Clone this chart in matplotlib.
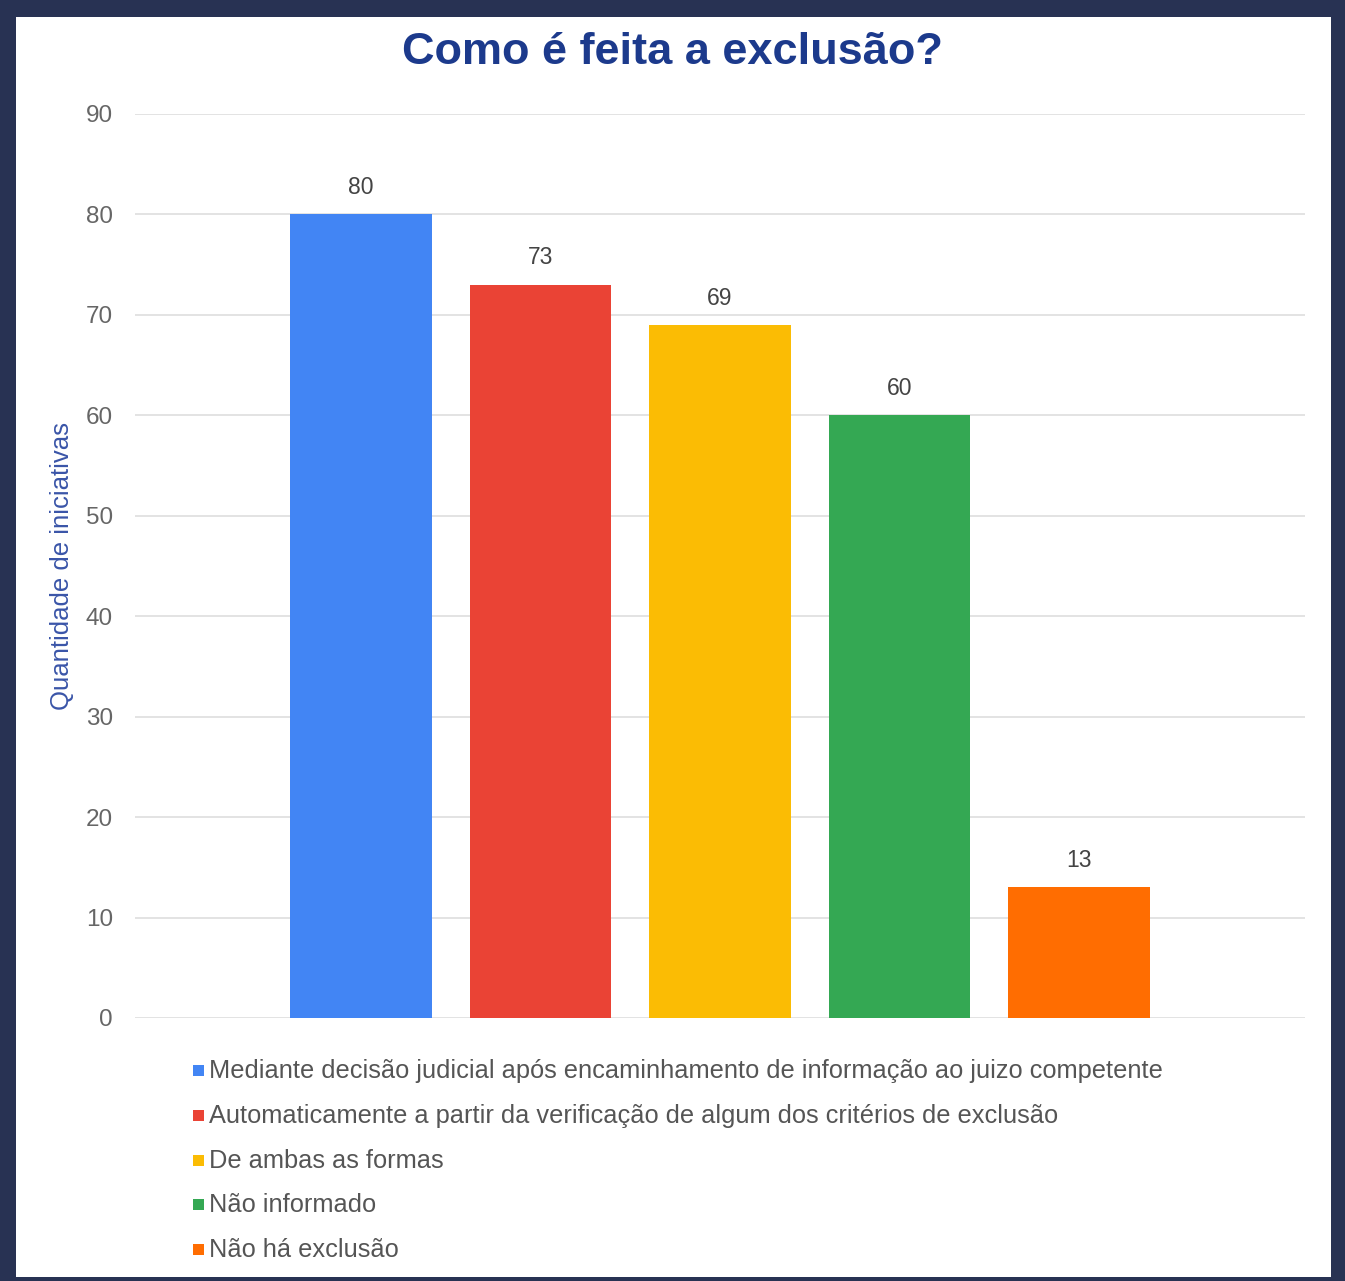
import matplotlib
matplotlib.use("Agg")
import matplotlib.pyplot as plt
from matplotlib.patches import Rectangle

plt.rcParams['font.family'] = ['Liberation Sans', 'DejaVu Sans']

# dados
categorias = [
    "Mediante decisão judicial após encaminhamento de informação ao juizo competente",
    "Automaticamente a partir da verificação de algum dos critérios de exclusão",
    "De ambas as formas",
    "Não informado",
    "Não há exclusão",
]
valores = [80, 73, 69, 60, 13]
cores = ["#4285f4", "#ea4335", "#fbbc04", "#34a853", "#ff6d01"]
yticks = [0, 10, 20, 30, 40, 50, 60, 70, 80, 90]

W, H = 1345, 1281
fig = plt.figure(figsize=(W / 100, H / 100), dpi=100, facecolor="#283253")

# fundo branco dentro da moldura
fig.patches.append(Rectangle((16 / W, 4 / H), (1331 - 16) / W, (1264 - 4) / H,
                             transform=fig.transFigure, facecolor="white",
                             edgecolor="none", zorder=-5))

ax = fig.add_axes([135 / W, 263 / H, 1170 / W, 904 / H])
ax.set_facecolor("none")

x = list(range(len(valores)))
bars = ax.bar(x, valores, width=0.79, color=cores, zorder=3)
for xi, v in zip(x, valores):
    ax.annotate(str(v), (xi, v), xytext=(0, 11), textcoords="offset points",
                ha="center", va="bottom", fontsize=16.5, color="#444444")

ax.set_xlim(-1.26, 5.26)
ax.set_ylim(0, 90)
ax.set_yticks(yticks)
ax.set_xticks([])
ax.tick_params(axis="y", length=0, pad=16, labelsize=17.5, labelcolor="#666666")
ax.grid(axis="y", color="#e0e0e0", linewidth=1.3, zorder=0)
for s in ax.spines.values():
    s.set_visible(False)

ax.set_ylabel("Quantidade de iniciativas", fontsize=18.5, color="#3a55a8")
ax.yaxis.set_label_coords(-0.052, 0.5)

fig.text(0.5, 1 - 52 / H, "Como é feita a exclusão?", ha="center", va="center",
         fontsize=32.5, fontweight="bold", color="#1c3a8c")

# legenda
y0 = 1071
for i, (lab, c) in enumerate(zip(categorias, cores)):
    yc = y0 + i * 44.8
    fig.patches.append(Rectangle((193 / W, 1 - (yc + 5) / H), 11 / W, 11 / H,
                                 transform=fig.transFigure, facecolor=c,
                                 edgecolor="none"))
    fig.text(209 / W, 1 - yc / H, lab, ha="left", va="center",
             fontsize=18.3, color="#555555")

fig.savefig("out.png", dpi=100, facecolor=fig.get_facecolor())
